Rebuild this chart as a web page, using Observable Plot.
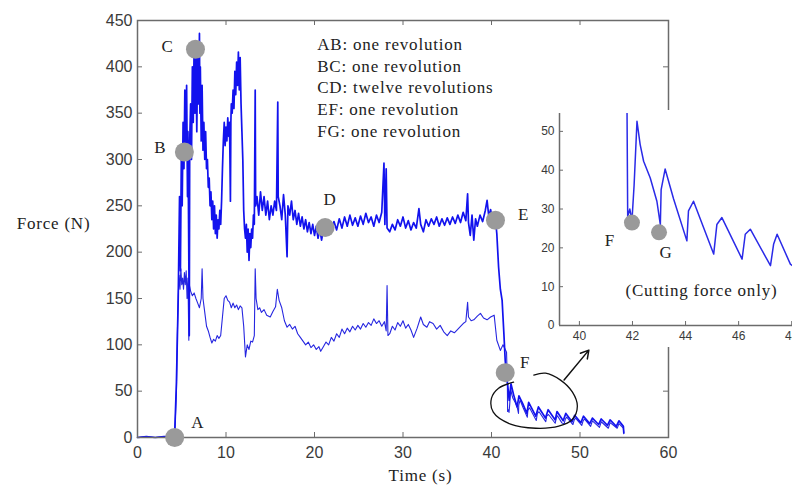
<!DOCTYPE html>
<html><head><meta charset="utf-8">
<script src="https://cdn.jsdelivr.net/npm/d3@7"></script>
<script src="https://cdn.jsdelivr.net/npm/@observablehq/plot@0.6"></script>
<style>
body{margin:0;background:#fff;}
#wrap{position:relative;width:792px;height:488px;overflow:hidden;background:#fff;}
#inset{position:absolute;left:535px;top:110px;}
</style></head><body><div id="wrap"></div>
<script>
// ---- data ----
const totalTime = [0,1,2,3,4,4.2,4.4,4.6,4.75,4.85,4.95,5.05,5.15,5.25,5.35,5.45,5.55,5.65,5.7,5.8,5.85,5.9,6.0,6.1,6.2,6.3,6.4,6.5,6.6,6.7,6.8,6.9,7.0,7.05,7.1,7.2,7.3,7.4,7.5,7.6,7.7,7.8,7.9,8.0,8.1,8.2,8.3,8.4,8.5,8.6,8.7,8.8,8.9,9.0,9.1,9.2,9.3,9.4,9.5,9.6,9.7,9.8,9.9,10.0,10.1,10.2,10.3,10.4,10.5,10.55,10.6,10.7,10.8,10.9,11.0,11.1,11.2,11.3,11.4,11.5,11.6,11.7,11.8,11.9,12.0,12.1,12.2,12.3,12.4,12.5,12.6,12.7,12.8,12.9,13.0,13.1,13.2,13.3,13.35,13.5,13.7,13.9,14.1,14.3,14.5,14.7,14.9,15.1,15.3,15.5,15.7,15.85,15.9,16.1,16.3,16.5,16.7,16.9,17.0,17.2,17.4,17.6,17.8,18.0,18.2,18.4,18.6,18.8,19.0,19.2,19.4,19.6,19.8,20.0,20.2,20.4,20.6,20.8,21.0,21.3,21.6,21.9,22.2,22.5,22.8,23.1,23.4,23.7,24.0,24.3,24.6,24.9,25.2,25.5,25.8,26.1,26.4,26.7,27.0,27.3,27.6,27.85,27.95,28.1,28.2,28.5,28.8,29.1,29.4,29.7,30.0,30.3,30.6,30.9,31.2,31.5,31.8,32.0,32.3,32.6,32.9,33.2,33.5,33.8,34.1,34.4,34.7,35.0,35.3,35.6,35.9,36.2,36.5,36.8,37.1,37.3,37.4,37.6,37.8,38.0,38.2,38.4,38.7,39.0,39.3,39.5,39.7,39.9,40.1,40.3,40.5,40.6,40.8,41.0,41.2,41.4,41.55,41.7,41.85,42.0,42.2,42.5,42.9,43.1,43.5,44.0,44.2,45.0,45.3,46.1,46.4,47.2,47.4,48.1,48.4,49.1,49.4,50.1,50.4,51.1,51.4,52.1,52.4,53.1,53.4,54.1,54.4,54.9,54.95];
const totalForce = [0,1,0,1,1,3,60,150,260,180,300,250,340,290,375,300,380,260,330,190,110,320,360,300,400,340,425,350,410,330,415,360,436,350,400,320,380,310,340,300,330,290,300,270,280,250,265,235,255,225,250,220,240,215,235,225,245,230,255,290,320,340,315,335,320,345,325,340,255,340,360,350,375,355,395,370,405,380,416,375,410,360,330,300,245,225,215,230,200,225,191,220,205,225,215,240,230,375,250,260,240,265,245,260,240,255,235,250,240,255,245,362,260,250,235,262,240,195,250,240,255,235,245,230,242,228,238,225,235,222,232,220,230,218,228,215,225,213,224,218,230,222,233,224,236,226,238,228,240,229,237,228,239,230,242,232,238,228,240,232,243,296,230,290,226,222,230,224,235,228,238,226,234,224,232,226,247,230,222,235,228,236,230,238,228,236,229,237,230,238,231,240,232,243,234,263,232,218,240,213,236,228,240,233,245,256,238,246,236,240,230,220,184,160,148,112,83,68,55,40,58,46,33,45,37,26,38,23,33,21,30,19,28,18,26,17,24,16,23,15,21,14,20,13,19,12,18,12,5];

const cutTime = [0,1,2,3,4,4.2,4.4,4.5,4.6,4.7,4.8,4.9,5.0,5.1,5.2,5.3,5.4,5.5,5.6,5.7,5.8,5.85,6.0,6.2,6.4,6.6,6.8,7.0,7.2,7.3,7.4,7.6,7.8,8.0,8.2,8.4,8.6,8.8,9.0,9.2,9.4,9.6,9.8,10.0,10.2,10.4,10.6,10.8,11.0,11.2,11.4,11.6,11.8,12.0,12.2,12.4,12.6,12.8,13.0,13.2,13.3,13.4,13.6,13.8,14.0,14.3,14.6,15.0,15.3,15.6,15.8,16.0,16.3,16.6,16.9,17.2,17.5,17.8,18.1,18.4,18.7,19.0,19.3,19.6,19.9,20.2,20.5,20.7,21.0,21.3,21.6,21.9,22.2,22.5,22.8,23.1,23.4,23.7,24.0,24.3,24.6,24.9,25.2,25.5,25.8,26.1,26.4,26.7,27.0,27.3,27.6,27.9,28.1,28.2,28.3,28.5,28.8,29.1,29.4,29.7,30.0,30.3,30.6,30.9,31.2,31.6,32.0,32.3,32.7,33.0,33.4,33.8,34.2,34.6,35.0,35.4,35.8,36.1,36.5,36.8,37.1,37.3,37.4,37.7,38.0,38.4,38.75,39.1,39.5,39.9,40.3,40.6,41.0,41.3,41.5,41.7,41.79,41.82,41.9,41.98,42.06,42.17,42.29,42.42,42.67,42.92,43.05,43.08,43.23,43.55,44.05,44.11,44.3,45.06,45.18,45.37,46.13,46.25,46.44,47.2,47.32,47.45,47.95,48.2,48.35,48.5,49.2,49.35,49.5,50.2,50.35,50.5,51.2,51.4,52.2,52.4,53.2,53.4,54.2,54.4,54.9,54.95];
const cutForce = [0,1,0,1,1,2,50,110,152,175,160,182,165,172,160,178,165,180,150,172,105,165,158,153,156,150,145,140,150,182,150,135,120,115,108,102,106,104,110,107,110,130,150,153,148,146,140,145,140,143,138,142,140,120,87,100,95,104,103,110,182,150,138,140,135,138,132,130,136,141,160,148,140,126,119,122,117,120,112,108,104,100,103,97,100,95,98,93,98,103,100,108,104,112,108,117,112,118,114,120,116,121,117,123,119,124,121,128,123,126,120,125,115,164,110,112,120,116,124,120,126,118,122,116,108,118,130,122,119,125,123,117,121,114,110,115,113,116,120,123,125,146,130,126,127,131,134,129,127,130,132,105,94,100,96,92,60,28,30,27,36,52.6,46.6,42.3,38,32,26,35,40.3,32.6,21.8,29.5,32,18.4,26,27.8,17.1,23.5,24.8,15.4,21,23.5,15.8,14.5,20,22,14,19,21,13,18,20,12,18,11,17,10,16,10,15,10,4];

const xTicks = [0,10,20,30,40,50,60];
const yTicks = [0,50,100,150,200,250,300,350,400,450];
const insetXTicks = [40,42,44,46,48];
const insetYTicks = [0,10,20,30,40,50];

const pointLabels = ["A","B","C","D","E","F"];
const pointTime  = [4.2,5.3,6.55,21.2,40.45,41.55];
const pointForce = [0,308,419,226.5,234.5,70];

const insetLabels = ["F","G"];
const insetTime  = [41.98,43.0];
const insetForce = [26.5,24];

const legendLines = ["AB: one revolution","BC: one revolution","CD: twelve revolutions","EF: one revolution","FG: one revolution"];

const loopTime  = [44.78,46.1,47.8,49.15,49.7,49.15,47.6,45.0,42.15,40.2,40.0,40.8,42.5];
const loopForce = [67.3,69.4,61.9,48.9,33.8,19.7,12.2,10.0,14.4,27.3,42.4,53.2,59.7];

// ---- drawing ----
const serif = "Liberation Serif, Times New Roman, serif";
const sans = "Liberation Sans, Arial, sans-serif";
const W = 792, H = 488, mL = 137, mR = 124, mT = 20, mB = 51;
const innerW = W - mL - mR, innerH = H - mT - mB;
const axisGrey = "#6b6b6b";
const blue = "#1212ee";

const total = totalTime.map((t, i) => ({t, f: totalForce[i]}));
const cut = cutTime.map((t, i) => ({t, f: cutForce[i]}));
const pts = pointLabels.map((l, i) => ({l, t: pointTime[i], f: pointForce[i]}));
const loop = loopTime.map((t, i) => ({t, f: loopForce[i]}));
const offsets = {A: [23, -15], B: [-24, -5], C: [-28, -3], D: [5, -28], E: [28, -6], F: [20, -10]};

const main = Plot.plot({
  width: W, height: H, marginLeft: mL, marginRight: mR, marginTop: mT, marginBottom: mB,
  x: {domain: [0, 60]}, y: {domain: [0, 450]},
  style: {background: "white", fontFamily: sans},
  marks: [
    Plot.line(cut, {x: "t", y: "f", stroke: "#2626e0", strokeWidth: 1.1}),
    Plot.line(total, {x: "t", y: "f", stroke: blue, strokeWidth: 1.7}),
    Plot.frame({stroke: axisGrey, strokeWidth: 1.5}),
    Plot.tickX(xTicks, {x: d => d, insetTop: innerH - 5, stroke: axisGrey}),
    Plot.tickX(xTicks, {x: d => d, insetBottom: innerH - 5, stroke: axisGrey}),
    Plot.tickY(yTicks, {y: d => d, insetRight: innerW - 5, stroke: axisGrey}),
    Plot.tickY(yTicks, {y: d => d, insetLeft: innerW - 5, stroke: axisGrey}),
    Plot.axisX({ticks: xTicks, tickSize: 0, tickPadding: 9, fontSize: 16, color: "#3a3a3a", label: null}),
    Plot.axisY({ticks: yTicks, tickSize: 0, tickPadding: 5, fontSize: 16, color: "#3a3a3a", label: null}),
    Plot.dot(pts, {x: "t", y: "f", r: 9.5, fill: "#9a9a9a", stroke: "none"}),
    ...pts.map(p => Plot.text([p], {x: "t", y: "f", text: "l", dx: offsets[p.l][0], dy: offsets[p.l][1], fontFamily: serif, fontSize: 17, fill: "#222"})),
    Plot.text([legendLines.join("\n")], {frameAnchor: "top-left", dx: 179.7, dy: 66, textAnchor: "start", lineAnchor: "middle", lineHeight: 1.28, fontFamily: serif, fontSize: 17, fill: "#222"}),
    Plot.text(["Force (N)"], {frameAnchor: "left", dx: -84, dy: -5, textAnchor: "middle", fontFamily: serif, fontSize: 17, fill: "#222"}),
    Plot.text(["Time (s)"], {frameAnchor: "bottom", dx: 17.5, dy: 43, textAnchor: "middle", fontFamily: serif, fontSize: 17, fill: "#222"}),
    Plot.line(loop, {x: "t", y: "f", curve: "catmull-rom", stroke: "#111", strokeWidth: 1.3}),
    Plot.arrow({length: 1}, {x1: () => 48.2, y1: () => 62, x2: () => 51.0, y2: () => 94.3, stroke: "#111", strokeWidth: 1.5, headLength: 9})
  ]
});

// inset
const iW = 257, iH = 237, imL = 24, imT = 3, imB = 22;
const iInnerW = iW - imL, iInnerH = iH - imT - imB;
const insetPts = insetLabels.map((l, i) => ({l, t: insetTime[i], f: insetForce[i]}));
const insetOffsets = {F: [-22, 18], G: [7, 20]};
const inset = Plot.plot({
  width: iW, height: iH, marginLeft: imL, marginRight: 0, marginTop: imT, marginBottom: imB,
  x: {domain: [39.25, 48.03]}, y: {domain: [0, 54.6]},
  style: {background: "white", fontFamily: sans},
  marks: [
    Plot.line(cut, {x: "t", y: "f", stroke: "#2a2ae8", strokeWidth: 1.5, clip: true}),
    Plot.ruleX([39.25], {stroke: axisGrey, strokeWidth: 1.5}),
    Plot.ruleY([0], {stroke: axisGrey, strokeWidth: 1.5}),
    Plot.tickX(insetXTicks, {x: d => d, insetTop: iInnerH - 4, stroke: axisGrey}),
    Plot.tickY(insetYTicks, {y: d => d, insetRight: iInnerW - 4, stroke: axisGrey}),
    Plot.axisX({ticks: insetXTicks, tickSize: 0, tickPadding: 6, fontSize: 12, color: "#3a3a3a", label: null}),
    Plot.axisY({ticks: insetYTicks, tickSize: 0, tickPadding: 5, fontSize: 12, color: "#3a3a3a", label: null}),
    Plot.dot(insetPts, {x: "t", y: "f", r: 8, fill: "#9a9a9a", stroke: "none"}),
    ...insetPts.map(p => Plot.text([p], {x: "t", y: "f", text: "l", dx: insetOffsets[p.l][0], dy: insetOffsets[p.l][1], fontFamily: serif, fontSize: 17, fill: "#222"})),
    Plot.text(["(Cutting force only)"], {x: () => 44.6, y: () => 9, textAnchor: "middle", fontFamily: serif, fontSize: 17, fill: "#222"})
  ]
});
inset.id = "inset";

const wrap = document.getElementById("wrap");
wrap.appendChild(main);
wrap.appendChild(inset);

// slight letter spacing for the serif annotations
for (const svg of [main, inset]) {
  svg.querySelectorAll("g[font-family]").forEach(g => {
    if (g.getAttribute("font-family").includes("Serif")) g.style.letterSpacing = "0.8px";
  });
}
</script></body></html>
